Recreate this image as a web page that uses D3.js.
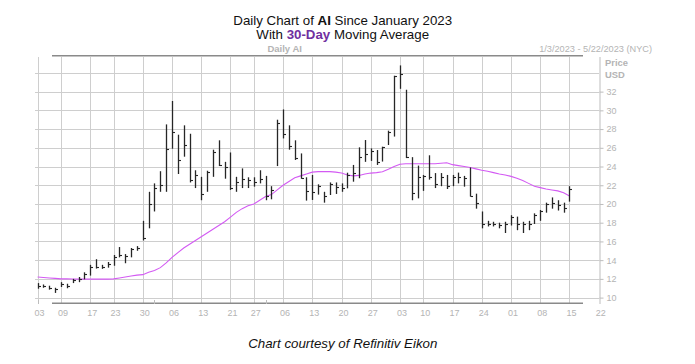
<!DOCTYPE html>
<html>
<head>
<meta charset="utf-8">
<script src="https://cdn.jsdelivr.net/npm/d3@7"></script>
<style>
  body { margin: 0; background: #fff; }
  svg { display: block; }
  text { font-family: "Liberation Sans", Arial, sans-serif; }
</style>
</head>
<body>
<svg id="chart" width="695" height="364"></svg>
<script>
// trading sessions Jan 3 - May 22 2023 (MM-DD)
const sessions = [
  "01-03","01-04","01-05","01-06","01-09","01-10","01-11","01-12","01-13","01-17",
  "01-18","01-19","01-20","01-23","01-24","01-25","01-26","01-27","01-30","01-31",
  "02-01","02-02","02-03","02-06","02-07","02-08","02-09","02-10","02-13","02-14",
  "02-15","02-16","02-17","02-21","02-22","02-23","02-24","02-27","02-28","03-01",
  "03-02","03-03","03-06","03-07","03-08","03-09","03-10","03-13","03-14","03-15",
  "03-16","03-17","03-20","03-21","03-22","03-23","03-24","03-27","03-28","03-29",
  "03-30","03-31","04-03","04-04","04-05","04-06","04-10","04-11","04-12","04-13",
  "04-14","04-17","04-18","04-19","04-20","04-21","04-24","04-25","04-26","04-27",
  "04-28","05-01","05-02","05-03","05-04","05-05","05-08","05-09","05-10","05-11",
  "05-12","05-15","05-16","05-17","05-18","05-19","05-22"
];

const tickDates = ["01-03","01-09","01-17","01-23","01-30","02-06","02-13","02-21","02-27",
  "03-06","03-13","03-20","03-27","04-03","04-10","04-17","04-24","05-01","05-08","05-15","05-22"];
const priceTicks = [10, 12, 14, 16, 18, 20, 22, 24, 26, 28, 30, 32];
const priceGrid = [10, 12, 14, 16, 18, 20, 22, 24, 26, 28, 30, 32, 34];

const high = [
  11.55, 11.4, 11.27, 11.05, 11.65, 11.48, 12.0, 12.2, 12.7, 13.5,
  14.1, 13.5, 13.8, 14.55, 15.4, 14.65, 15.3, 15.5, 18.2, 21.3,
  22.2, 23.5, 28.5, 31.0, 27.4, 28.4, 27.5, 23.6, 22.9, 23.55,
  25.8, 26.8, 24.5, 25.5, 22.9, 23.8, 22.85, 22.85, 23.6, 23.0,
  21.9, 29.0, 30.1, 28.4, 26.8, 25.4, 22.85, 23.1, 22.1, 21.3,
  22.3, 22.3, 22.2, 23.34, 24.17, 26.05, 26.83, 25.94, 25.76, 26.12,
  27.83, 33.7, 34.8, 32.2, 25.0, 24.1, 23.1, 25.2, 23.3, 23.3,
  23.1, 23.1, 23.35, 23.0, 23.9, 21.1, 19.2, 18.2, 18.1, 18.0,
  18.1, 18.8, 18.65, 18.1, 18.2, 19.0, 19.36, 20.14, 20.7, 20.4,
  20.14, 21.9
];
const low = [
  10.95, 11.05, 10.85, 10.5, 11.13, 11.0, 11.55, 11.65, 11.95, 12.35,
  13.1, 13.07, 13.2, 13.4, 14.3, 13.67, 14.3, 15.0, 16.1, 17.4,
  19.2, 21.3, 21.3, 25.9, 23.2, 25.05, 22.3, 21.7, 20.4, 21.3,
  22.9, 24.05, 22.7, 21.5, 21.3, 21.7, 21.7, 21.85, 22.2, 20.4,
  20.5, 24.05, 27.0, 25.8, 24.7, 22.7, 20.36, 20.43, 21.0, 20.14,
  20.96, 21.07, 21.3, 21.67, 22.38, 22.75, 24.5, 24.6, 24.17, 24.53,
  26.3, 27.2, 32.3, 24.9, 20.4, 20.6, 21.4, 22.6, 21.7, 21.9,
  21.6, 21.9, 22.2, 21.85, 20.8, 19.5, 17.4, 17.6, 17.6, 17.4,
  16.9, 17.7, 17.2, 16.9, 17.2, 17.86, 18.2, 19.07, 19.5, 19.3,
  19.07, 20.25
];
const close = [
  11.23, 11.2, 11.05, 10.95, 11.4, 11.27, 11.9, 12.0, 12.5, 13.3,
  13.25, 13.3, 13.6, 14.3, 14.5, 14.4, 15.2, 15.3, 16.4, 20.0,
  21.7, 22.0, 25.9, 27.65, 24.7, 26.3, 22.6, 23.1, 21.1, 23.4,
  25.6, 24.2, 23.9, 21.7, 22.4, 22.7, 22.6, 22.3, 22.7, 20.85,
  21.5, 28.6, 27.5, 26.2, 24.9, 22.8, 21.4, 21.3, 21.9, 20.8,
  22.14, 21.78, 21.74, 23.1, 23.27, 24.98, 25.3, 25.7, 24.53, 26.05,
  27.72, 33.67, 33.9, 25.0, 21.2, 22.9, 23.0, 22.9, 22.1, 22.85,
  21.9, 22.9, 22.85, 22.75, 20.8, 20.07, 17.9, 17.9, 17.86, 17.76,
  17.86, 18.65, 17.9, 17.9, 17.9, 18.8, 19.2, 20.0, 20.14, 19.9,
  19.6, 21.6
];
const ma30 = [
  12.2, 12.15, 12.1, 12.05, 12.0, 12.0, 11.98, 11.97, 11.97, 11.97,
  11.97, 11.97, 11.97, 12.0, 12.1, 12.2, 12.3, 12.4, 12.45, 12.7,
  12.9, 13.2, 13.7, 14.3, 14.8, 15.3, 15.7, 16.1, 16.5, 16.9,
  17.3, 17.7, 18.1, 18.6, 19.1, 19.5, 19.8, 20.0, 20.4, 20.8,
  21.0, 21.5, 22.0, 22.4, 22.8, 23.0, 23.2, 23.4, 23.45, 23.45,
  23.45, 23.4, 23.3, 23.1, 23.0, 23.05, 23.2, 23.3, 23.35, 23.45,
  23.7, 24.0, 24.25, 24.3, 24.3, 24.3, 24.3, 24.3, 24.3, 24.35,
  24.4, 24.2, 24.1, 24.0, 23.9, 23.75, 23.6, 23.5, 23.35, 23.2,
  23.1, 22.95, 22.75, 22.5, 22.2, 21.9, 21.75, 21.6, 21.5, 21.4,
  21.2, 20.85
];

const svg = d3.select("#chart");
const grey = "#b4b4b4";

const x = d3.scalePoint().domain(sessions).range([37.6, 598.7]);
const y = d3.scaleLinear().domain([10, 34]).range([297.6, 72.9]);
const px = (v) => Math.round(v) + 0.5;

svg.append("rect").attr("width", 695).attr("height", 364).attr("fill", "#fff");

// titles
const title = svg.append("text")
  .attr("x", 342.7).attr("y", 25)
  .attr("text-anchor", "middle")
  .attr("font-size", 13.3).attr("fill", "#111");
title.append("tspan").text("Daily Chart of ");
title.append("tspan").attr("font-weight", "bold").text("AI");
title.append("tspan").text(" Since January 2023");

const sub = svg.append("text")
  .attr("x", 342.7).attr("y", 38.5)
  .attr("text-anchor", "middle")
  .attr("font-size", 13.3).attr("fill", "#111");
sub.append("tspan").text("With ");
sub.append("tspan").attr("font-weight", "bold").attr("fill", "#7030a0").text("30-Day");
sub.append("tspan").text(" Moving Average");

svg.append("text")
  .attr("x", 284.7).attr("y", 52)
  .attr("text-anchor", "middle")
  .attr("font-size", 9.5).attr("font-weight", "bold")
  .attr("fill", grey).text("Daily AI");

svg.append("text")
  .attr("x", 652).attr("y", 52.3)
  .attr("text-anchor", "end")
  .attr("font-size", 9.2).attr("fill", grey)
  .text("1/3/2023 - 5/22/2023 (NYC)");

svg.append("text")
  .attr("x", 605).attr("y", 65.7)
  .attr("font-size", 9.4).attr("font-weight", "bold")
  .attr("fill", grey).text("Price");
svg.append("text")
  .attr("x", 605).attr("y", 78.3)
  .attr("font-size", 9.4).attr("font-weight", "bold")
  .attr("fill", grey).text("USD");

// grid
const grid = svg.append("g").attr("stroke", "#cecece").attr("stroke-width", 1);
grid.selectAll("line.h")
  .data(priceGrid)
  .enter()
  .append("line")
  .attr("x1", 35).attr("x2", 599)
  .attr("y1", (d) => px(y(d))).attr("y2", (d) => px(y(d)));
grid.selectAll("line.v")
  .data(tickDates.slice(0, -1))
  .enter()
  .append("line")
  .attr("x1", (d) => px(x(d))).attr("x2", (d) => px(x(d)))
  .attr("y1", 57).attr("y2", 303);

// scroll bars top and bottom
svg.append("line").attr("x1", 52).attr("x2", 583).attr("y1", 55.8).attr("y2", 55.8)
  .attr("stroke", "#8a8a8a").attr("stroke-width", 1.4);
svg.append("line").attr("x1", 52).attr("x2", 583).attr("y1", 303.3).attr("y2", 303.3)
  .attr("stroke", "#8a8a8a").attr("stroke-width", 1.4);

// right price axis
const yAxis = d3.axisRight(y).tickValues(priceTicks).tickSize(4).tickPadding(3);
const ya = svg.append("g")
  .attr("transform", `translate(${px(x("05-22"))},0)`)
  .call(yAxis);
ya.select(".domain").attr("stroke", "#bdbdbd").attr("d", "M0.5,57V304");
ya.selectAll(".tick line").attr("stroke", "#bdbdbd");
ya.selectAll("text").attr("font-size", 9).attr("fill", grey)
  .attr("font-family", "Liberation Sans, Arial, sans-serif");

// date axis
const xAxis = d3.axisBottom(x).tickValues(tickDates).tickSize(0).tickPadding(7)
  .tickFormat((d) => d.slice(3));
const xa = svg.append("g").attr("transform", "translate(0,303)").call(xAxis);
xa.select(".domain").remove();
xa.selectAll("text").attr("font-size", 9).attr("fill", grey).attr("dx", 1.5)
  .attr("font-family", "Liberation Sans, Arial, sans-serif");

// month start ticks
svg.selectAll("line.mtick")
  .data(["01-03", "02-01", "03-01"])
  .enter()
  .append("line")
  .attr("x1", (d) => px(x(d))).attr("x2", (d) => px(x(d)))
  .attr("y1", 300).attr("y2", 304)
  .attr("stroke", "#bdbdbd");

// moving average
const idx = d3.range(ma30.length);
svg.append("path")
  .datum(idx)
  .attr("fill", "none")
  .attr("stroke", "#d35af3")
  .attr("stroke-width", 1.1)
  .attr("d", d3.line().x((i) => x(sessions[i])).y((i) => y(ma30[i])));

// HLC bars
const bars = svg.append("g").attr("stroke", "#262626").attr("stroke-width", 1.3);
bars.selectAll("line.hl")
  .data(idx)
  .enter()
  .append("line")
  .attr("x1", (i) => px(x(sessions[i]))).attr("x2", (i) => px(x(sessions[i])))
  .attr("y1", (i) => y(high[i])).attr("y2", (i) => y(low[i]));
bars.selectAll("line.c")
  .data(idx)
  .enter()
  .append("line")
  .attr("stroke-width", 1.1)
  .attr("x1", (i) => px(x(sessions[i]))).attr("x2", (i) => px(x(sessions[i])) + 2.5)
  .attr("y1", (i) => px(y(close[i]))).attr("y2", (i) => px(y(close[i])));

// caption
svg.append("text")
  .attr("x", 342.8).attr("y", 348.3)
  .attr("text-anchor", "middle")
  .attr("font-size", 13.3).attr("font-style", "italic")
  .attr("fill", "#111")
  .text("Chart courtesy of Refinitiv Eikon");
</script>
</body>
</html>
